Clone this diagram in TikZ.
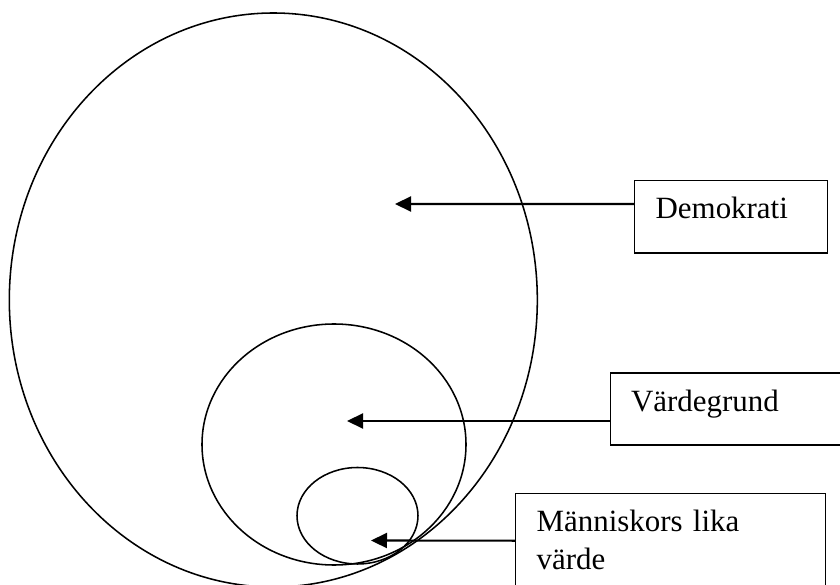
\documentclass[tikz,border=0pt]{standalone}
\usepackage{fontspec}
\setmainfont{Liberation Serif}
\usetikzlibrary{arrows.meta}
\usetikzlibrary{positioning}

\begin{document}
\begin{tikzpicture}[
  ring/.style={draw=black,line width=1.1pt},
  etikett/.style={draw=black,line width=0.9pt,anchor=north west,align=left,
    font=\fontsize{22}{27}\selectfont,inner xsep=0.525cm,inner ysep=0pt,
    text height=0.95cm},
  pil/.style={line width=1.5pt,-{Triangle[length=0.4cm,width=0.375cm]}}
]
\useasboundingbox (0,0) rectangle (21,14.625);
\fill[white] (0,0) rectangle (21,14.625);
% ringarna
\draw[ring] (6.833,7.125) ellipse (6.6 and 7.175);
\draw[ring] (8.35,3.5125) ellipse (3.3 and 3.0125);
\draw[ring] (8.9375,1.7313) ellipse (1.5125 and 1.206);

% rutorna
\node[etikett,text width=3.7625cm,text depth=0.8625cm] (demokrati) at (15.85,10.125) {Demokrati};
\node[etikett,text width=5cm,text depth=0.85cm] (vardegrund) at (15.2375,5.3125) {V\"ardegrund};
\node[etikett,text width=6.7cm,text depth=3cm] (lika) at (12.875,2.3075) {M\"anniskors lika\\v\"arde};

\coordinate (pDemokrati) at (9.875,9.525);
\coordinate (pVardegrund) at (8.675,4.1);
\coordinate (pLika) at (9.275,1.1125);

\draw[pil] ([yshift=-0.6cm]demokrati.north west) -- (pDemokrati);
\draw[pil] ([yshift=-1.2125cm]vardegrund.north west) -- (pVardegrund);
\draw[pil] ([yshift=-1.2cm]lika.north west) -- (pLika);
\end{tikzpicture}
\end{document}
